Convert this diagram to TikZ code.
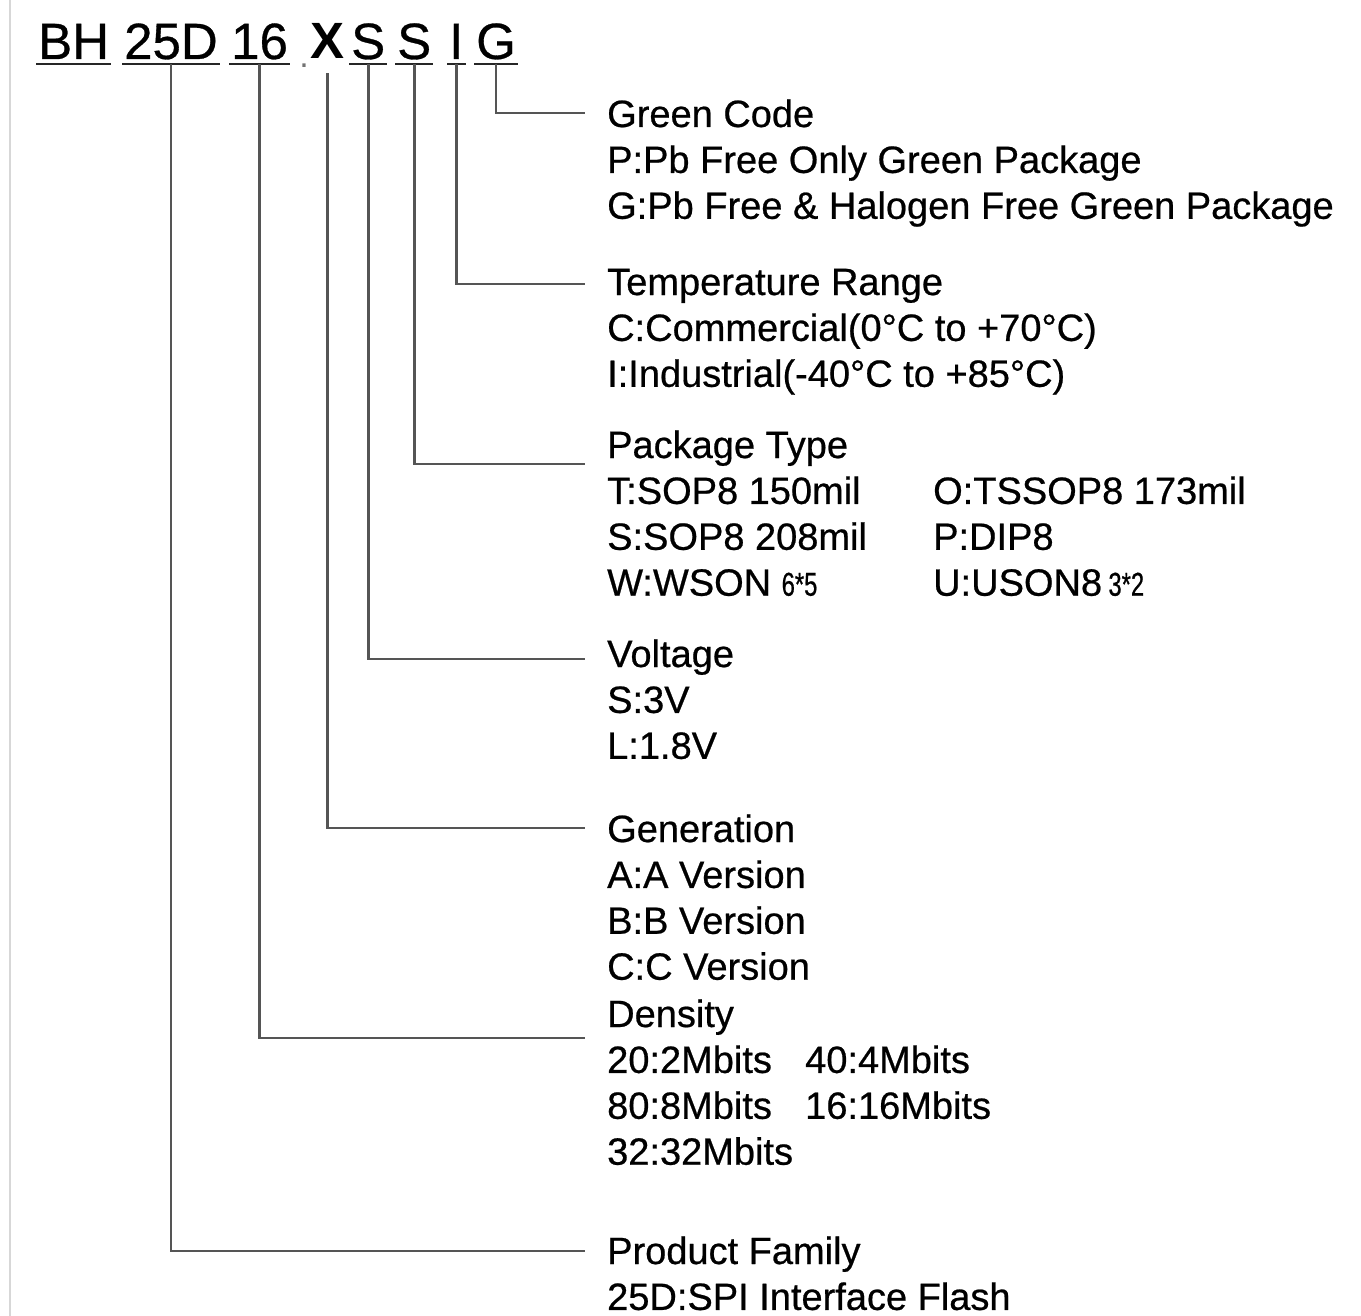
\documentclass[tikz,border=0pt]{standalone}
\usepackage{fontspec}
\setmainfont{Liberation Sans}
\newfontfamily\heavyfont[FakeBold=0.6]{Liberation Sans}
\newfontfamily\narrowfont[FakeStretch=0.72, FakeBold=0.6]{Liberation Sans}
\usepackage{tikz}
\usetikzlibrary{positioning}
\newcommand{\codefont}{\heavyfont\fontsize{51}{60}\selectfont}
\newcommand{\txtfont}{\heavyfont\fontsize{38}{45}\selectfont}
\newcommand{\minifont}{\narrowfont\fontsize{33}{36}\selectfont}
\definecolor{linegray}{RGB}{85, 85, 85}
\definecolor{edgegray}{RGB}{215, 215, 215}
\tikzstyle{code} = [font=\codefont, text=black, text height=38pt, text depth=0pt, inner xsep=2pt, inner ysep=5pt, anchor=base west]
\tikzstyle{title} = [font=\txtfont, text=black, text height=28pt, text depth=8pt, inner sep=0pt, anchor=base west]
\tikzstyle{item} = [title]
\tikzstyle{uline} = [draw=black!85, line width=2.6pt]
\tikzstyle{conn} = [draw=linegray, line width=2.8pt]
\begin{document}
\begin{tikzpicture}[x=1pt, y=-1pt]
\useasboundingbox (0,0) rectangle (1361,1316);
\draw[edgegray, line width=2pt] (10,0) -- (10,1316);

% part number ===============================
\node[code] (bh) at (36,59) {BH};
\node[code] (fam) at (122,59) {25D};
\node[code] (dens) at (229,59) {16};
\node[font=\fontsize{34}{34}\selectfont, text=black!55, inner sep=0pt, anchor=base] (dot) at (304,68) {.};
\node[code, font=\fontsize{51}{60}\selectfont\bfseries] (gen) at (308,59) {X};
\node[code] (volt) at (349,59) {S};
\node[code] (pkg) at (395,59) {S};
\node[code] (temp) at (447,59) {I};
\node[code] (green) at (474,59) {G};

\foreach \n in {bh,fam,dens,volt,pkg,temp,green}
  \path[uline] (\n.south west) -- (\n.south east);

% descriptions ==============================
\node[title] (greenhd) at (607,127) {Green Code};
\node[item, below=9.5pt of greenhd.south west, anchor=north west] (greenP) {P:Pb Free Only Green Package};
\node[item, below=9.5pt of greenP.south west, anchor=north west] (greenG) {G:Pb Free \& Halogen Free Green Package};

\node[title] (temphd) at (607,295) {Temperature Range};
\node[item, below=9.5pt of temphd.south west, anchor=north west] (tempC) {C:Commercial(0°C to +70°C)};
\node[item, below=9.5pt of tempC.south west, anchor=north west] (tempI) {I:Industrial(-40°C to +85°C)};

\node[title] (pkghd) at (607,458) {Package Type};
\node[item, below=9.5pt of pkghd.south west, anchor=north west] (pkgT) {T:SOP8 150mil};
\node[item, below=9.5pt of pkgT.south west, anchor=north west] (pkgS) {S:SOP8 208mil};
\node[item, below=9.5pt of pkgS.south west, anchor=north west] (pkgW) {W:WSON {\minifont 6*5}};
\node[item, xshift=326pt] (pkgO) at (pkgT.base west) {O:TSSOP8 173mil};
\node[item, xshift=326pt] (pkgP) at (pkgS.base west) {P:DIP8};
\node[item, xshift=326pt] (pkgU) at (pkgW.base west) {U:USON8\,{\minifont 3*2}};

\node[title] (volthd) at (607,667) {Voltage};
\node[item, below=9.5pt of volthd.south west, anchor=north west] (voltS) {S:3V};
\node[item, below=9.5pt of voltS.south west, anchor=north west] (voltL) {L:1.8V};

\node[title] (genhd) at (607,842) {Generation};
\node[item, below=9.5pt of genhd.south west, anchor=north west] (genA) {A:A Version};
\node[item, below=9.5pt of genA.south west, anchor=north west] (genB) {B:B Version};
\node[item, below=9.5pt of genB.south west, anchor=north west] (genC) {C:C Version};

\node[title] (denshd) at (607,1027) {Density};
\node[item, below=9.5pt of denshd.south west, anchor=north west] (dens20) {20:2Mbits};
\node[item, below=9.5pt of dens20.south west, anchor=north west] (dens80) {80:8Mbits};
\node[item, below=9.5pt of dens80.south west, anchor=north west] (dens32) {32:32Mbits};
\node[item, xshift=198pt] (dens40) at (dens20.base west) {40:4Mbits};
\node[item, xshift=198pt] (dens16) at (dens80.base west) {16:16Mbits};

\node[title] (famhd) at (607,1264) {Product Family};
\node[item, below=9.5pt of famhd.south west, anchor=north west] (famSPI) {25D:SPI Interface Flash};

% connectors
\coordinate (greenend) at (585,113);
\coordinate (tempend) at (585,284);
\coordinate (pkgend) at (585,464);
\coordinate (voltend) at (585,659);
\coordinate (genend) at (585,828);
\coordinate (densend) at (585,1038);
\coordinate (famend) at (585,1251);

\path[conn] (green.south) |- (greenend);
\path[conn] (temp.south) |- (tempend);
\path[conn] (pkg.south) |- (pkgend);
\path[conn] (volt.south) |- (voltend);
\path[conn, shorten <=9pt] (gen.south) |- (genend);
\path[conn] (dens.south) |- (densend);
\path[conn] (fam.south) |- (famend);

\end{tikzpicture}
\end{document}
